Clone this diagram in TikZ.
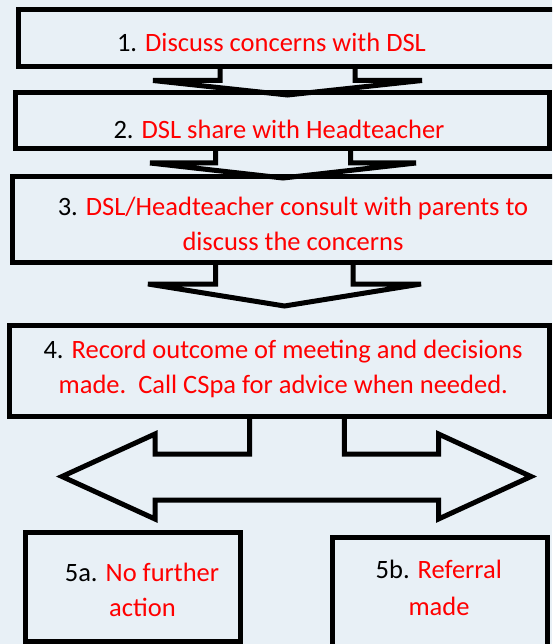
\documentclass[tikz,border=0pt]{standalone}
\usepackage{fontspec}
\setmainfont{Carlito}
\definecolor{bgc}{RGB}{232,240,246}
\definecolor{txtred}{RGB}{255,0,0}
\begin{document}
\begin{tikzpicture}[x=1pt,y=-1pt,
  boxstyle/.style={draw=black,line width=5pt,rectangle,inner sep=0pt,fill=bgc},
  arrowshape/.style={draw=black,line width=5pt},
  lbl/.style={anchor=base,inner sep=0pt,font=\fontsize{26.5}{32}\selectfont},
  rd/.style={text=txtred}]
\useasboundingbox (0,0) rectangle (552,644);
\clip (0,0) rectangle (552,644);
\fill[bgc] (0,0) rectangle (552,644);
% boxes
\node[boxstyle,minimum width=551.5pt,minimum height=56.7pt] (b1) at (294.25,38.35) {};
\node[boxstyle,minimum width=534pt,minimum height=56.5pt] (b2) at (282,120.75) {};
\node[boxstyle,minimum width=562.5pt,minimum height=85.5pt] (b3) at (293.75,219.75) {};
\node[boxstyle,minimum width=539.7pt,minimum height=91pt] (b4) at (279.65,370.5) {};
\node[boxstyle,minimum width=214.7pt,minimum height=109.5pt] (b5a) at (132.65,586.75) {};
\node[boxstyle,minimum width=214.3pt,minimum height=111pt] (b5b) at (439.85,592.5) {};
% block arrows
\draw[arrowshape] (220,66.7) -- (220,80.5) -- (153,80.5) -- (287.5,95) -- (422,80.5) -- (355,80.5) -- (355,66.7);
\draw[arrowshape] (215.7,149) -- (215.7,163) -- (150,163) -- (283,178) -- (416,163) -- (350.5,163) -- (350.5,149);
\draw[arrowshape] (215.5,262.5) -- (215.5,284) -- (148,284) -- (284.5,306) -- (421,284) -- (353,284) -- (353,262.5);
\draw[arrowshape] (249.5,416) -- (249.5,454) -- (155,454) -- (155,434) -- (62,476.5) -- (155,519) -- (155,500)
  -- (438.5,500) -- (438.5,519) -- (531,476.5) -- (438.5,434) -- (438.5,454) -- (344.3,454) -- (344.3,416);
% texts
\node[lbl] (t1) at (271.5,52) {1. \textcolor{txtred}{Discuss concerns with DSL}};
\node[lbl] (t2) at (279,139) {2. \textcolor{txtred}{DSL share with Headteacher}};
\node[lbl] (t3a) at (293,215) {3. \textcolor{txtred}{DSL/Headteacher consult with parents to}};
\node[lbl,rd] (t3b) at (293,250) {discuss the concerns};
\node[lbl] (t4a) at (283,358.3) {4. \textcolor{txtred}{Record outcome of meeting and decisions}};
\node[lbl,rd] (t4b) at (283.3,393.3) {made.\ \ Call CSpa for advice when needed.};
\node[lbl] (t5a1) at (142,581.7) {5a. \textcolor{txtred}{No further}};
\node[lbl,rd] (t5a2) at (142.5,616.7) {action};
\node[lbl] (t5b1) at (438.8,578.3) {5b. \textcolor{txtred}{Referral}};
\node[lbl,rd] (t5b2) at (439,615) {made};
\end{tikzpicture}
\end{document}
